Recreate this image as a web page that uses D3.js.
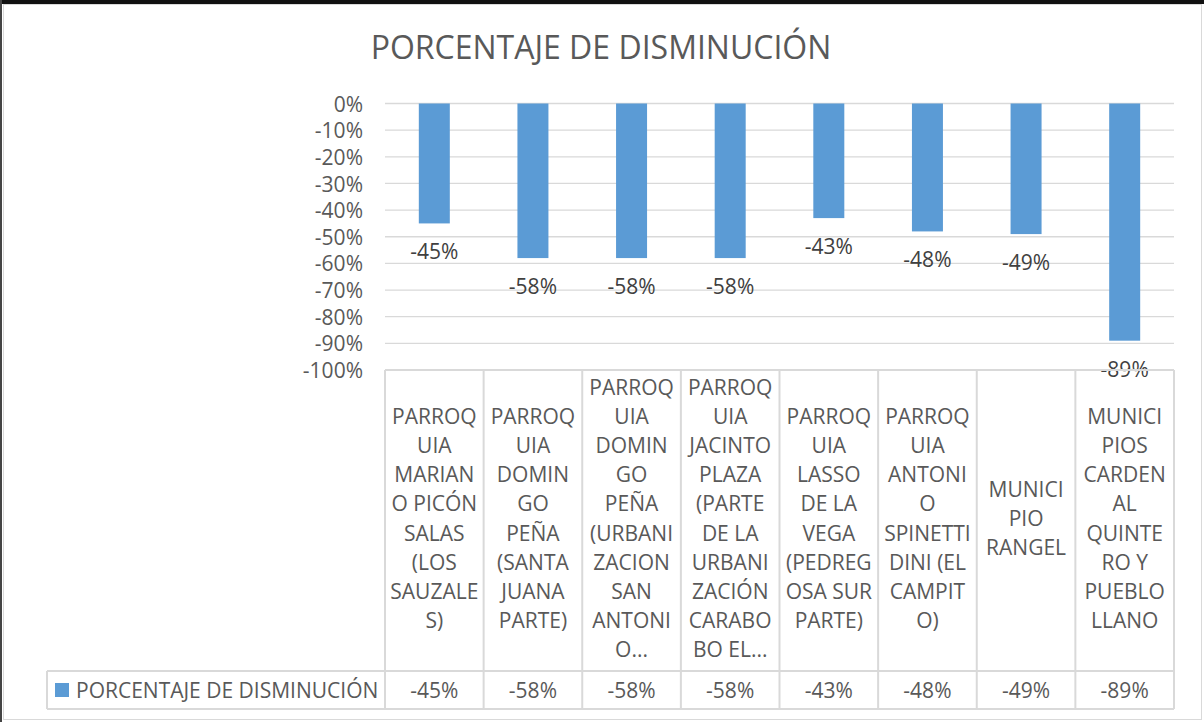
<!DOCTYPE html>
<html>
<head>
<meta charset="utf-8">
<script src="https://cdn.jsdelivr.net/npm/d3@7"></script>
<style>
  html, body { margin: 0; padding: 0; background: #fff; }
  svg text { font-family: "Open Sans", "Noto Sans", sans-serif; fill: #595959; }
</style>
</head>
<body>
<svg id="chart" width="1204" height="722"></svg>
<script>
var title = "PORCENTAJE DE DISMINUCIÓN";
var seriesName = "PORCENTAJE DE DISMINUCIÓN";
var categories = [
  ["PARROQ", "UIA", "MARIAN", "O PICÓN", "SALAS", "(LOS", "SAUZALE", "S)"],
  ["PARROQ", "UIA", "DOMIN", "GO", "PEÑA", "(SANTA", "JUANA", "PARTE)"],
  ["PARROQ", "UIA", "DOMIN", "GO", "PEÑA", "(URBANI", "ZACION", "SAN", "ANTONI", "O..."],
  ["PARROQ", "UIA", "JACINTO", "PLAZA", "(PARTE", "DE LA", "URBANI", "ZACIÓN", "CARABO", "BO EL..."],
  ["PARROQ", "UIA", "LASSO", "DE LA", "VEGA", "(PEDREG", "OSA SUR", "PARTE)"],
  ["PARROQ", "UIA", "ANTONI", "O", "SPINETTI", "DINI (EL", "CAMPIT", "O)"],
  ["MUNICI", "PIO", "RANGEL"],
  ["MUNICI", "PIOS", "CARDEN", "AL", "QUINTE", "RO Y", "PUEBLO", "LLANO"]
];
var values = [-0.45, -0.58, -0.58, -0.58, -0.43, -0.48, -0.49, -0.89];
var yTicks = [0, -0.1, -0.2, -0.3, -0.4, -0.5, -0.6, -0.7, -0.8, -0.9, -1.0];

var svg = d3.select("#chart");
var W = 1204, H = 722;
var plotLeft = 385, plotRight = 1174, plotTop = 103.5, plotBottom = 370;
var tableMid = 671, tableBottom = 709, legendLeft = 47;
var barColor = "#5B9BD5", gridColor = "#D9D9D9";
var fmt = d3.formatLocale({decimal: ".", thousands: ",", grouping: [3], currency: ["", ""], minus: "-"}).format(".0%");
var fs = "21px";

// frame
svg.append("rect").attr("x", 0).attr("y", 0).attr("width", W).attr("height", H).attr("fill", "#fff");
svg.append("rect").attr("x", 3.5).attr("y", 4.5).attr("width", 1198).attr("height", 715)
  .attr("fill", "none").attr("stroke", gridColor).attr("stroke-width", 1);
svg.append("rect").attr("x", 0).attr("y", 0).attr("width", W).attr("height", 4).attr("fill", "#111");
svg.append("rect").attr("x", 0).attr("y", 0).attr("width", 2).attr("height", H).attr("fill", "#444");

svg.append("text").attr("x", 601).attr("y", 59).attr("text-anchor", "middle")
  .style("font-size", "32px").text(title);

var x = d3.scaleBand().domain(d3.range(values.length)).range([plotLeft, plotRight]).paddingInner(0).paddingOuter(0);
var y = d3.scaleLinear().domain([0, -1]).range([plotTop, plotBottom]);

// gridlines
svg.append("g").selectAll("line").data(yTicks.slice(0, -1)).enter().append("line")
  .attr("x1", plotLeft).attr("x2", plotRight)
  .attr("y1", function(d) { return y(d); }).attr("y2", function(d) { return y(d); })
  .attr("stroke", gridColor).attr("stroke-width", 1.3);

// y axis labels
var yAxis = svg.append("g").attr("transform", "translate(" + (plotLeft - 22) + ",0)")
  .call(d3.axisLeft(y).tickValues(yTicks).tickFormat(fmt).tickSize(0).tickPadding(0));
yAxis.select(".domain").remove();
yAxis.selectAll("text").style("font-size", fs).style("font-family", null).attr("fill", "#595959")
  .attr("dy", "0.36em").attr("x", 0);

// bars
var barW = 31;
svg.append("g").selectAll("rect").data(values).enter().append("rect")
  .attr("x", function(d, i) { return x(i) + x.bandwidth() / 2 - barW / 2; })
  .attr("y", y(0))
  .attr("width", barW)
  .attr("height", function(d) { return y(d) - y(0); })
  .attr("fill", barColor);

// data labels
svg.append("g").selectAll("text").data(values).enter().append("text")
  .attr("x", function(d, i) { return x(i) + x.bandwidth() / 2; })
  .attr("y", function(d) { return y(d) + 36; })
  .attr("text-anchor", "middle").style("font-size", fs).style("fill", "#404040")
  .text(fmt);

// data table
var tbl = svg.append("g").attr("stroke", gridColor).attr("stroke-width", 2).attr("fill", "none");
tbl.append("line").attr("x1", plotLeft).attr("x2", plotRight).attr("y1", plotBottom).attr("y2", plotBottom);
tbl.append("line").attr("x1", legendLeft).attr("x2", plotRight).attr("y1", tableMid).attr("y2", tableMid);
tbl.append("line").attr("x1", legendLeft).attr("x2", plotRight).attr("y1", tableBottom).attr("y2", tableBottom);
tbl.append("line").attr("x1", legendLeft).attr("x2", legendLeft).attr("y1", tableMid).attr("y2", tableBottom);
tbl.selectAll(".v").data(d3.range(values.length + 1)).enter().append("line")
  .attr("x1", function(i) { return plotLeft + i * x.bandwidth(); })
  .attr("x2", function(i) { return plotLeft + i * x.bandwidth(); })
  .attr("y1", plotBottom).attr("y2", tableBottom);

// category labels
var lineH = 29.1, cellMid = 526;
categories.forEach(function(lines, i) {
  var t = svg.append("text").attr("text-anchor", "middle").style("font-size", fs);
  var y0 = cellMid - (lines.length - 1) * lineH / 2;
  lines.forEach(function(s, k) {
    t.append("tspan").attr("x", x(i) + x.bandwidth() / 2).attr("y", y0 + k * lineH).text(s);
  });
});

// value row
svg.append("g").selectAll("text").data(values).enter().append("text")
  .attr("x", function(d, i) { return x(i) + x.bandwidth() / 2; })
  .attr("y", (tableMid + tableBottom) / 2).attr("dy", "0.36em")
  .attr("text-anchor", "middle").style("font-size", fs).text(fmt);

// legend key
svg.append("rect").attr("x", 55).attr("y", 683).attr("width", 14).attr("height", 14).attr("fill", barColor);
svg.append("text").attr("x", 76).attr("y", (tableMid + tableBottom) / 2).attr("dy", "0.36em")
  .style("font-size", fs).text(seriesName);
</script>
</body>
</html>
